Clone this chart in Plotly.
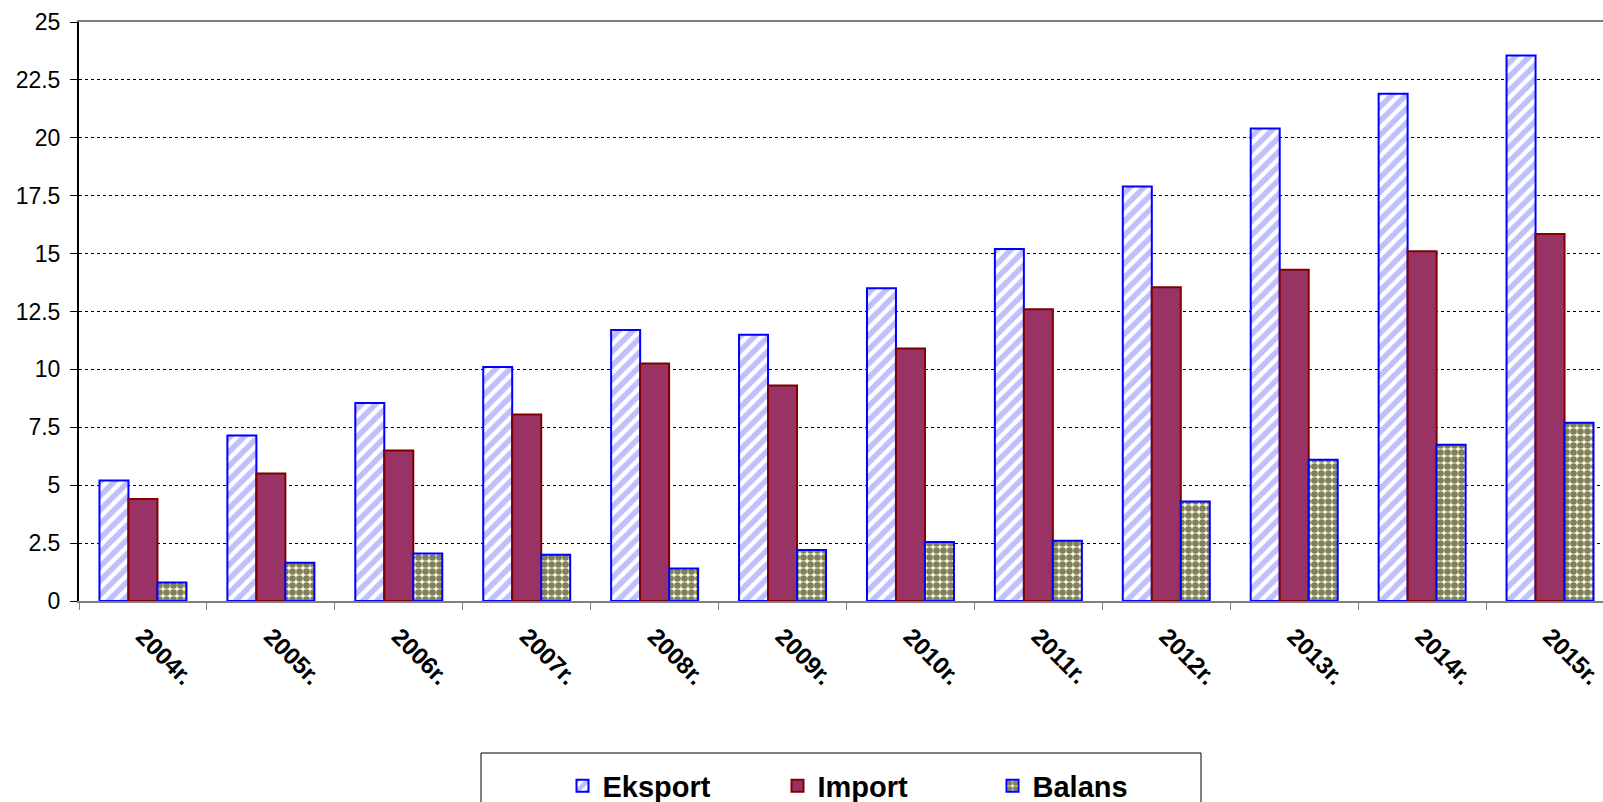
import plotly.graph_objects as go

years = ["2004r.", "2005r.", "2006r.", "2007r.", "2008r.", "2009r.",
         "2010r.", "2011r.", "2012r.", "2013r.", "2014r.", "2015r."]
eksport = [5.2, 7.15, 8.55, 10.1, 11.7, 11.5, 13.5, 15.2, 17.9, 20.4, 21.9, 23.55]
importv = [4.4, 5.5, 6.5, 8.05, 10.25, 9.3, 10.9, 12.6, 13.55, 14.3, 15.1, 15.85]
balans = [0.8, 1.65, 2.05, 2.0, 1.4, 2.2, 2.55, 2.6, 4.3, 6.1, 6.75, 7.7]
yticks = [0, 2.5, 5, 7.5, 10, 12.5, 15, 17.5, 20, 22.5, 25]

fig = go.Figure()
fig.add_trace(go.Bar(
    name="Eksport", x=years, y=eksport,
    marker=dict(color="white", line=dict(color="#0000FF", width=2),
                pattern=dict(shape="/", fgcolor="#8080FF", bgcolor="white",
                             size=10, solidity=0.55, fillmode="overlay")),
))
fig.add_trace(go.Bar(
    name="Import", x=years, y=importv,
    marker=dict(color="#993366", line=dict(color="#800000", width=2)),
))
fig.add_trace(go.Bar(
    name="Balans", x=years, y=balans,
    marker=dict(color="#FFFFCC", line=dict(color="#0000FF", width=2),
                pattern=dict(shape=".", fgcolor="black", bgcolor="#FFFFCC",
                             size=7, solidity=0.7, fillmode="overlay")),
))

fig.update_layout(
    width=1603, height=802,
    margin=dict(l=79, r=0, t=22, b=201, autoexpand=False),
    paper_bgcolor="white", plot_bgcolor="white",
    barmode="group", bargap=0.32, bargroupgap=0,
    font=dict(family="Liberation Sans, Arial, sans-serif", color="black"),
    showlegend=True,
    legend=dict(orientation="h", x=0.5 + 44 / 1524, xanchor="center",
                yref="container", y=1 - 786 / 802, yanchor="middle",
                font=dict(size=29, weight="bold"),
                entrywidth=170, entrywidthmode="pixels",
                bgcolor="rgba(0,0,0,0)", borderwidth=0),
    shapes=[dict(type="rect", xref="paper", yref="paper",
                 x0=(481 - 79) / 1524, x1=(1201 - 79) / 1524,
                 y0=-0.5, y1=(601 - 753) / 579,
                 line=dict(color="black", width=1), fillcolor="rgba(0,0,0,0)",
                 layer="below")],
)

fig.update_xaxes(
    range=[-0.5, 11.414], automargin=False,
    showline=True, linecolor="#808080", linewidth=2, mirror=True,
    ticks="outside", tickson="boundaries", ticklen=7, tickcolor="#808080",
    tickangle=45, tickfont=dict(size=24, weight="bold"), ticklabelstandoff=10,
    showgrid=False,
)
fig.update_yaxes(
    range=[0, 25], automargin=False, tickvals=yticks, ticktext=[f"{v:g}" for v in yticks],
    showline=True, linecolor="black", linewidth=2,
    ticks="outside", ticklen=7, tickcolor="black",
    tickfont=dict(size=23), ticklabelstandoff=5,
    showgrid=True, gridcolor="black", gridwidth=1, griddash="dot",
    zeroline=False,
)

fig.write_html("out.html")
